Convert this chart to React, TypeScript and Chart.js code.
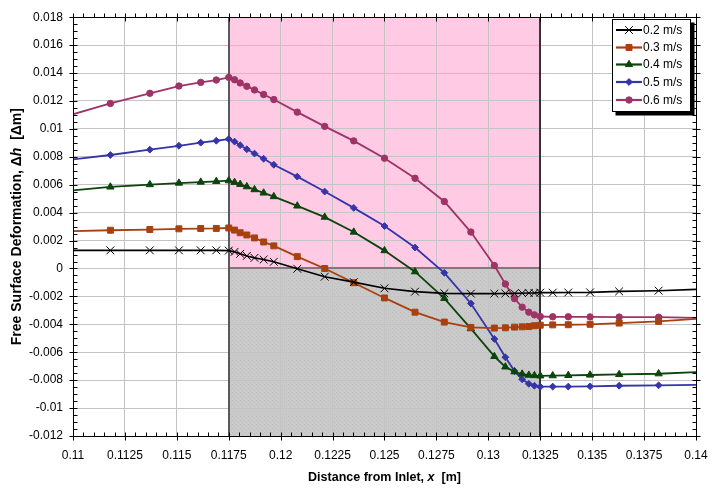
import { useEffect, useRef } from 'react';
import { Chart, registerables } from 'chart.js';
import { drawPoint } from 'chart.js/helpers';

Chart.register(...registerables);

const xValues = [
  0.1092, 0.1118, 0.1137, 0.1151, 0.11615, 0.1169, 0.1175, 0.11778, 0.11805, 0.11837, 0.11874,
  0.11918, 0.11967, 0.1208, 0.12212, 0.12352, 0.125, 0.12647, 0.12788, 0.12916, 0.13029, 0.13082,
  0.13126, 0.13163, 0.13195, 0.13222, 0.1325, 0.1331, 0.13385, 0.1349, 0.1363, 0.1382, 0.1408,
];

const series02 = [
  0.0013, 0.0013, 0.0013, 0.0013, 0.0013, 0.0013, 0.00128, 0.00119, 0.00105, 0.0009, 0.00076,
  0.00064, 0.00048, -0.00002, -0.00059, -0.00098, -0.00142, -0.00166, -0.00178, -0.0018, -0.0018, -0.00179,
  -0.00178, -0.00177, -0.00176, -0.00175, -0.00173, -0.00173, -0.00172, -0.00171, -0.00164, -0.00159, -0.00146,
];
const series03 = [
  0.00265, 0.00274, 0.00279, 0.00284, 0.00286, 0.00287, 0.0029, 0.00275, 0.00256, 0.0024, 0.00219,
  0.0019, 0.00162, 0.00085, 0.0, -0.00102, -0.00211, -0.00313, -0.00384, -0.00422, -0.00427, -0.00425,
  -0.0042, -0.00418, -0.00416, -0.0041, -0.00406, -0.00404, -0.00403, -0.004, -0.00391, -0.00379, -0.00354,
];
const series04 = [
  0.00548, 0.00584, 0.00601, 0.00612, 0.00619, 0.00624, 0.00629, 0.00617, 0.00603, 0.00586, 0.00565,
  0.00541, 0.00515, 0.00448, 0.00368, 0.00261, 0.00128, -0.00023, -0.00214, -0.00431, -0.0063, -0.00705,
  -0.0074, -0.00756, -0.00764, -0.00767, -0.00769, -0.00768, -0.00766, -0.00763, -0.00759, -0.00754, -0.00738,
];
const series05 = [
  0.00768, 0.00813, 0.00851, 0.00879, 0.00901, 0.00915, 0.00927, 0.00909, 0.00883, 0.00854, 0.00823,
  0.00786, 0.00743, 0.00658, 0.00551, 0.00434, 0.00304, 0.0015, -0.00031, -0.00251, -0.00505, -0.00636,
  -0.00735, -0.00794, -0.00826, -0.0084, -0.00847, -0.00846, -0.00846, -0.00844, -0.0084, -0.00837, -0.00832,
];
const series06 = [
  0.0107, 0.01182, 0.01255, 0.01307, 0.01333, 0.0135, 0.01369, 0.01352, 0.01329, 0.01305, 0.01279,
  0.01246, 0.0121, 0.0112, 0.01018, 0.00914, 0.0079, 0.00646, 0.0048, 0.00261, 0.00021, -0.00111,
  -0.00216, -0.00277, -0.00313, -0.00332, -0.00344, -0.00346, -0.00346, -0.00347, -0.00348, -0.00349, -0.00357,
];

const seriesLabels = ['0.2 m/s', '0.3 m/s', '0.4 m/s', '0.5 m/s', '0.6 m/s'];

const xTickValues = [0.11, 0.1125, 0.115, 0.1175, 0.12, 0.1225, 0.125, 0.1275, 0.13, 0.1325, 0.135, 0.1375, 0.14];
const xTickLabels = ['0.11', '0.1125', '0.115', '0.1175', '0.12', '0.1225', '0.125', '0.1275', '0.13', '0.1325', '0.135', '0.1375', '0.14'];
const yTickValues = [0.018, 0.016, 0.014, 0.012, 0.01, 0.008, 0.006, 0.004, 0.002, 0, -0.002, -0.004, -0.006, -0.008, -0.01, -0.012];
const yTickLabels = ['0.018', '0.016', '0.014', '0.012', '0.01', '0.008', '0.006', '0.004', '0.002', '0', '-0.002', '-0.004', '-0.006', '-0.008', '-0.01', '-0.012'];

const zoneStart = 0.1175;
const zoneEnd = 0.1325;

const FONT = 'Arial, "Liberation Sans", sans-serif';

const styles = [
  { color: '#000000', point: 'crossRot', radius: 5.5, width: 1.6 },
  { color: '#A8400F', point: 'rect', radius: 4.2, width: 1.8 },
  { color: '#0B450B', point: 'triangle', radius: 4.2, width: 1.8 },
  { color: '#3535A8', point: 'rectRot', radius: 3.4, width: 1.8 },
  { color: '#9E3366', point: 'circle', radius: 3.2, width: 1.8 },
];

const seriesList = [series02, series03, series04, series05, series06];

function makePattern(ctx: CanvasRenderingContext2D, base: string, dot: string) {
  const c = document.createElement('canvas');
  c.width = 4;
  c.height = 4;
  const g = c.getContext('2d')!;
  g.fillStyle = base;
  g.fillRect(0, 0, 4, 4);
  g.fillStyle = dot;
  g.fillRect(0, 0, 1, 1);
  g.fillRect(2, 2, 1, 1);
  return ctx.createPattern(c, 'repeat') as CanvasPattern;
}

function drawMixed(ctx: CanvasRenderingContext2D, parts: { t: string; f: string }[], cx: number, cy: number) {
  let total = 0;
  const widths = parts.map((p) => {
    ctx.font = p.f;
    const w = ctx.measureText(p.t).width;
    total += w;
    return w;
  });
  let x = cx - total / 2;
  ctx.textBaseline = 'middle';
  ctx.textAlign = 'left';
  parts.forEach((p, i) => {
    ctx.font = p.f;
    ctx.fillText(p.t, x, cy);
    x += widths[i];
  });
}

const customPlugin = {
  id: 'custom',
  beforeDraw(chart: any) {
    const { ctx, chartArea: a, scales } = chart;
    const x = scales.x;
    const y = scales.y;
    ctx.save();
    ctx.fillStyle = '#ffffff';
    ctx.fillRect(0, 0, chart.width, chart.height);
    const x0 = x.getPixelForValue(zoneStart);
    const x1 = x.getPixelForValue(zoneEnd);
    const y0 = y.getPixelForValue(0);
    ctx.fillStyle = makePattern(ctx, '#FFCCE6', '#FFC3E0');
    ctx.fillRect(x0, a.top, x1 - x0, y0 - a.top);
    ctx.fillStyle = makePattern(ctx, '#CACACA', '#BEBEBE');
    ctx.fillRect(x0, y0, x1 - x0, a.bottom - y0);
    ctx.restore();
  },
  beforeDatasetsDraw(chart: any) {
    const { ctx, chartArea: a, scales } = chart;
    const x = scales.x;
    const y = scales.y;
    const x0 = Math.round(x.getPixelForValue(zoneStart));
    const x1 = Math.round(x.getPixelForValue(zoneEnd));
    const y0 = Math.round(y.getPixelForValue(0));
    ctx.save();
    ctx.strokeStyle = '#7A7A7A';
    ctx.lineWidth = 2;
    ctx.beginPath();
    ctx.moveTo(x0, y0);
    ctx.lineTo(x1, y0);
    ctx.stroke();
    ctx.strokeStyle = '#5A5A5A';
    ctx.beginPath();
    ctx.moveTo(x0, a.top);
    ctx.lineTo(x0, a.bottom);
    ctx.stroke();
    ctx.strokeStyle = '#000000';
    ctx.lineWidth = 1.5;
    ctx.beginPath();
    ctx.moveTo(x1, a.top);
    ctx.lineTo(x1, a.bottom);
    ctx.stroke();
    ctx.restore();
  },
  afterDraw(chart: any) {
    const { ctx, chartArea: a, scales } = chart;
    const x = scales.x;
    const y = scales.y;
    ctx.save();
    // frame
    ctx.strokeStyle = '#000';
    ctx.lineWidth = 1;
    const L = Math.round(a.left) + 0.5;
    const R = Math.round(a.right) + 0.5;
    const T = Math.round(a.top) + 0.5;
    const B = Math.round(a.bottom) + 0.5;
    ctx.strokeRect(L, T, R - L, B - T);
    ctx.beginPath();
    // x ticks
    for (let i = 0; i < xTickValues.length; i++) {
      const px = Math.round(x.getPixelForValue(xTickValues[i])) + 0.5;
      ctx.moveTo(px, B - 4);
      ctx.lineTo(px, B + 4);
      ctx.moveTo(px, T - 4);
      ctx.lineTo(px, T + 4);
      if (i < xTickValues.length - 1) {
        const step = (xTickValues[i + 1] - xTickValues[i]) / 5;
        for (let k = 1; k < 5; k++) {
          const mx = Math.round(x.getPixelForValue(xTickValues[i] + step * k)) + 0.5;
          ctx.moveTo(mx, B);
          ctx.lineTo(mx, B - 4);
          ctx.moveTo(mx, T);
          ctx.lineTo(mx, T - 4);
        }
      }
    }
    // y ticks
    for (let i = 0; i < yTickValues.length; i++) {
      const py = Math.round(y.getPixelForValue(yTickValues[i])) + 0.5;
      ctx.moveTo(L - 4, py);
      ctx.lineTo(L + 4, py);
      ctx.moveTo(R - 4, py);
      ctx.lineTo(R + 4, py);
      if (i < yTickValues.length - 1) {
        const step = (yTickValues[i + 1] - yTickValues[i]) / 4;
        for (let k = 1; k < 4; k++) {
          const my = Math.round(y.getPixelForValue(yTickValues[i] + step * k)) + 0.5;
          ctx.moveTo(L, my);
          ctx.lineTo(L + 4, my);
          ctx.moveTo(R, my);
          ctx.lineTo(R - 4, my);
        }
      }
    }
    ctx.stroke();

    // axis titles
    ctx.fillStyle = '#000';
    const bold = `bold 12.5px ${FONT}`;
    const boldIt = `italic bold 12.5px ${FONT}`;
    drawMixed(
      ctx,
      [
        { t: 'Distance from Inlet, ', f: bold },
        { t: 'x', f: boldIt },
        { t: '  [m]', f: bold },
      ],
      (a.left + a.right) / 2,
      478
    );
    const boldY = `bold 14px ${FONT}`;
    const boldYIt = `italic bold 14px ${FONT}`;
    ctx.save();
    ctx.translate(17, (a.top + a.bottom) / 2);
    ctx.rotate(-Math.PI / 2);
    drawMixed(
      ctx,
      [
        { t: 'Free Surface Deformation, \u0394', f: boldY },
        { t: 'h', f: boldYIt },
        { t: '  [\u0394m]', f: boldY },
      ],
      0,
      0
    );
    ctx.restore();

    // legend
    const bx = 612.5;
    const by = 19.5;
    const bw = 78;
    const bh = 92;
    ctx.fillStyle = '#000';
    ctx.fillRect(bx + 3, by + 3, bw + 1, bh + 1);
    ctx.fillStyle = '#fff';
    ctx.fillRect(bx, by, bw, bh);
    ctx.strokeStyle = '#000';
    ctx.lineWidth = 1;
    ctx.strokeRect(bx, by, bw, bh);
    const rows = [30, 47.5, 64.5, 82, 100];
    styles.forEach((s, i) => {
      const ry = rows[i];
      ctx.strokeStyle = s.color;
      ctx.lineWidth = s.width + 0.4;
      ctx.beginPath();
      ctx.moveTo(616, ry);
      ctx.lineTo(642, ry);
      ctx.stroke();
      ctx.fillStyle = s.color;
      ctx.strokeStyle = s.color;
      ctx.lineWidth = 1;
      drawPoint(ctx, { pointStyle: s.point, radius: s.radius, borderWidth: 1, rotation: 0 } as any, 629, ry);
      ctx.fillStyle = '#000';
      ctx.font = `12px ${FONT}`;
      ctx.textAlign = 'left';
      ctx.textBaseline = 'middle';
      ctx.fillText(seriesLabels[i], 643, ry + 0.5);
    });
    ctx.restore();
  },
};

export default function App() {
  const ref = useRef<HTMLCanvasElement | null>(null);
  useEffect(() => {
    if (!ref.current) return;
    const datasets = seriesList.map((vals, i) => ({
      label: seriesLabels[i],
      data: xValues.map((xv, j) => ({ x: xv, y: vals[j] })),
      borderColor: styles[i].color,
      backgroundColor: styles[i].color,
      pointBorderColor: styles[i].color,
      pointBackgroundColor: styles[i].color,
      borderWidth: styles[i].width,
      pointStyle: styles[i].point as any,
      pointRadius: styles[i].radius,
      pointBorderWidth: 1,
      tension: 0,
      fill: false,
      clip: 0 as any,
    }));
    const chart = new Chart(ref.current, {
      type: 'line',
      data: { datasets },
      plugins: [customPlugin as any],
      options: {
        animation: false,
        responsive: false,
        devicePixelRatio: 1,
        layout: { padding: { left: 0, top: 14, right: 28, bottom: 0 } },
        plugins: {
          legend: { display: false },
          tooltip: { enabled: false },
          title: { display: false },
        },
        scales: {
          x: {
            type: 'linear',
            min: 0.11,
            max: 0.14,
            afterBuildTicks: (scale: any) => {
              scale.ticks = xTickValues.map((v) => ({ value: v }));
            },
            afterFit: (scale: any) => {
              scale.height = 53;
            },
            ticks: {
              autoSkip: false,
              maxRotation: 0,
              padding: 12,
              color: '#000',
              font: { family: FONT, size: 12 },
              callback: (_v: any, i: number) => xTickLabels[i],
            },
            grid: { color: '#C4C4C4', lineWidth: 1, drawTicks: false },
            border: { display: false },
          },
          y: {
            type: 'linear',
            min: -0.012,
            max: 0.018,
            afterBuildTicks: (scale: any) => {
              scale.ticks = yTickValues.map((v) => ({ value: v }));
            },
            afterFit: (scale: any) => {
              scale.width = 73;
            },
            ticks: {
              autoSkip: false,
              padding: 10,
              color: '#000',
              font: { family: FONT, size: 12 },
              callback: (_v: any, i: number) => yTickLabels[i],
            },
            grid: { color: '#C4C4C4', lineWidth: 1, drawTicks: false },
            border: { display: false },
          },
        },
      },
    });
    return () => chart.destroy();
  }, []);
  return (
    <div style={{ position: 'fixed', left: 0, top: 0, width: 724, height: 489, background: '#fff' }}>
      <canvas ref={ref} width={724} height={489} style={{ width: 724, height: 489, display: 'block' }} />
    </div>
  );
}
